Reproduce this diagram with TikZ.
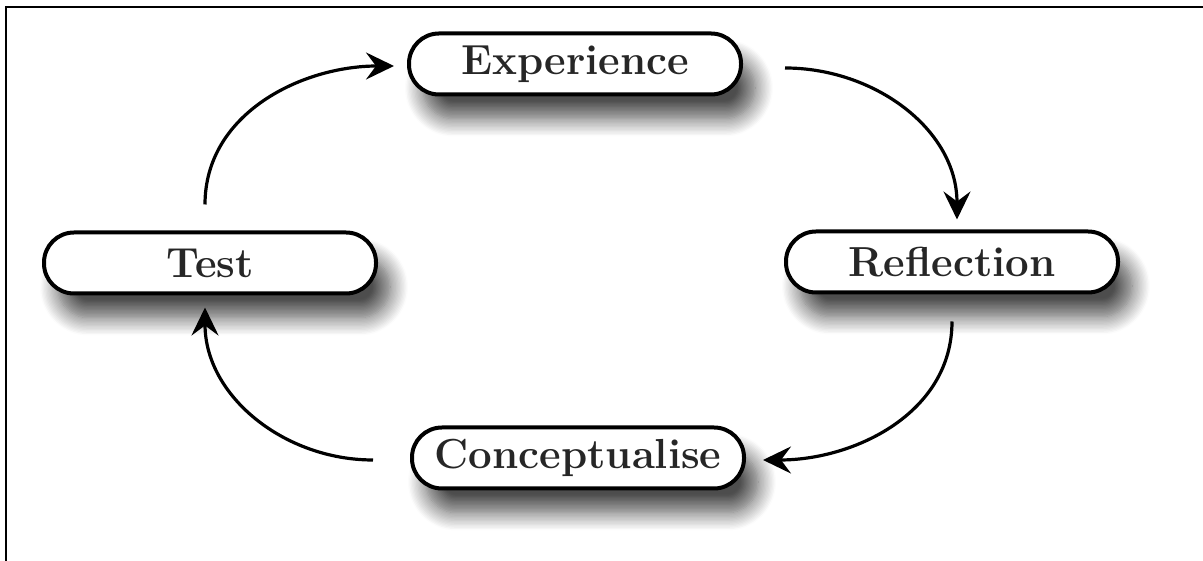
\documentclass[tikz,border=0pt]{standalone}
\usepackage{fontspec}
\usetikzlibrary{arrows.meta,shadows.blur}
\begin{document}
\begin{tikzpicture}[x=1pt,y=1pt,
  stage/.style={draw=black, line width=4pt, fill=white, rounded corners=30pt,
    minimum width=332pt, minimum height=61pt, inner sep=0pt,
    font=\fontsize{42}{44}\selectfont\bfseries, text=black!85,
    blur shadow={shadow xshift=14pt, shadow yshift=-24pt, shadow blur radius=18pt, shadow blur steps=14, shadow opacity=70}},
  arr/.style={line width=3.2pt, -{Stealth[length=28pt, width=27pt, inset=10pt]}},
  frame/.style={line width=1.5pt}]
\useasboundingbox (0,0) rectangle (1203,561);
\draw[frame] (6,0) -- (6,554) -- (1203,554);
\node[stage] (exp) at (575,497) {Experience};
\node[stage] (test) at (210,298) {Test};
\node[stage] (refl) at (952,299) {Reflection};
\node[stage] (conc) at (578,103) {Conceptualise};
\draw[arr] ([xshift=-5pt,yshift=26pt]test.north) to[out=90,in=180] ([xshift=-13pt,yshift=-2pt]exp.west);
\draw[arr] ([xshift=42pt,yshift=-4pt]exp.east) to[out=0,in=90] ([xshift=5pt,yshift=10pt]refl.north);
\draw[arr] ([yshift=-27pt]refl.south) to[out=-90,in=0] ([xshift=17pt,yshift=-2pt]conc.east);
\draw[arr] ([xshift=-37pt,yshift=-2pt]conc.west) to[out=180,in=-90] ([xshift=-5pt,yshift=-12pt]test.south);
\end{tikzpicture}
\end{document}
